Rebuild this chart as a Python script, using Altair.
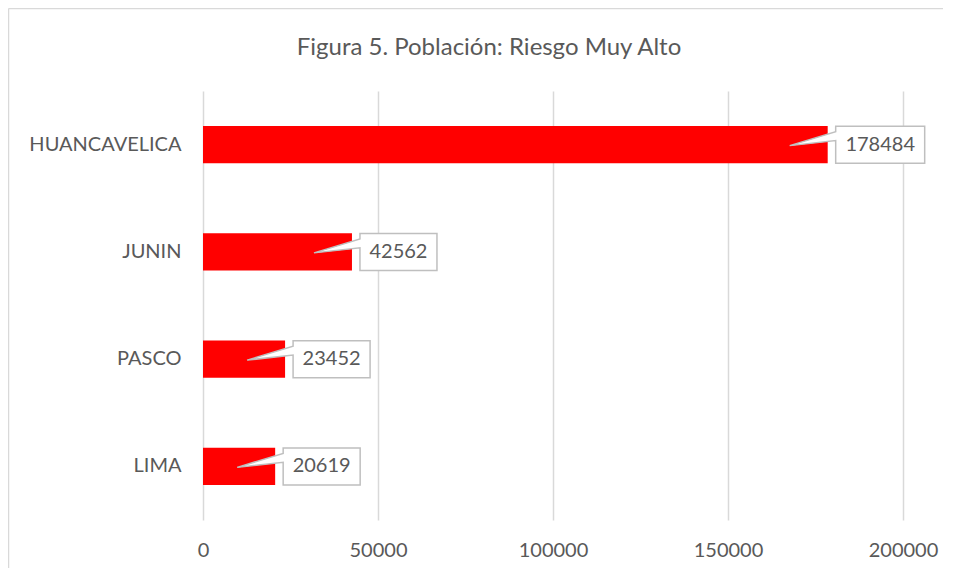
import altair as alt
import pandas as pd

departamentos = ["HUANCAVELICA", "JUNIN", "PASCO", "LIMA"]
poblacion = [178484, 42562, 23452, 20619]
x_ticks = [0, 50000, 100000, 150000, 200000]
titulo = "Figura 5. Población: Riesgo Muy Alto"

df = pd.DataFrame({"dep": departamentos, "pob": poblacion})
df["label"] = df["pob"].astype(str)

FONT = "Lato"
TXT = "#595959"
GRID = "#d9d9d9"
BOX = "#bfbfbf"

x_enc = alt.X(
    "pob:Q",
    scale=alt.Scale(domain=[0, 200000], nice=False),
    axis=alt.Axis(values=x_ticks, title=None, grid=True, gridColor=GRID, gridWidth=1.5,
                  domain=False, ticks=False, labelPadding=20, labelFontSize=20,
                  labelColor=TXT, labelFont=FONT, format="d", labelFlush=False),
)
y_enc = alt.Y(
    "dep:N", sort=departamentos,
    scale=alt.Scale(paddingInner=0.655, paddingOuter=0.3275),
    axis=alt.Axis(title=None, domain=False, ticks=False, grid=False, labelPadding=22,
                  labelFontSize=20, labelColor=TXT, labelFont=FONT),
)

base = alt.Chart(df)
bars = base.mark_bar(color="#ff0000").encode(x=x_enc, y=y_enc)


def callout(w, cond):
    r = (8 + w) / 100
    path = (f"M -0.38 0.01 L 0.08 -0.13 L 0.08 -0.185 L {r} -0.185 L {r} 0.185 "
            f"L 0.08 0.185 L 0.08 -0.04 Z")
    box = base.transform_filter(cond).mark_point(
        shape=path, size=40000, filled=True, fill="white", stroke=BOX,
        strokeWidth=1.5, opacity=1, fillOpacity=1, strokeOpacity=1,
    ).encode(x="pob:Q", y=alt.Y("dep:N", sort=departamentos))
    text = base.transform_filter(cond).mark_text(
        dx=8 + w / 2, font=FONT, fontSize=20, color=TXT, align="center", baseline="middle"
    ).encode(x="pob:Q", y=alt.Y("dep:N", sort=departamentos), text="label:N")
    return [box, text]


layers = [bars]
layers += callout(89, "length(datum.label) > 5")
layers += callout(77, "length(datum.label) <= 5")

one = pd.DataFrame({"a": [0]})
left_border = alt.Chart(one).mark_rule(color=GRID, strokeWidth=1.5).encode(
    x=alt.value(-194.5), y=alt.value(-82.5), y2=alt.value(480))
top_border = alt.Chart(one).mark_rule(color=GRID, strokeWidth=1.5).encode(
    x=alt.value(-194.5), x2=alt.value(760), y=alt.value(-82.5))
layers += [left_border, top_border]

chart = alt.layer(*layers).properties(
    width=700, height=429,
    view=alt.ViewBackground(strokeWidth=0, strokeOpacity=0),
    title=alt.TitleParams(titulo, font=FONT, fontSize=24, fontWeight="normal",
                          color=TXT, anchor="middle", dx=-64, offset=-52),
    autosize=alt.AutoSizeParams(type="none"),
    padding={"left": 195, "top": 83, "right": 40, "bottom": 48},
).configure_view(stroke="transparent", strokeWidth=0, strokeOpacity=0).configure(background="white")

chart.save("out.html", embed_options={"renderer": "svg", "actions": False})
